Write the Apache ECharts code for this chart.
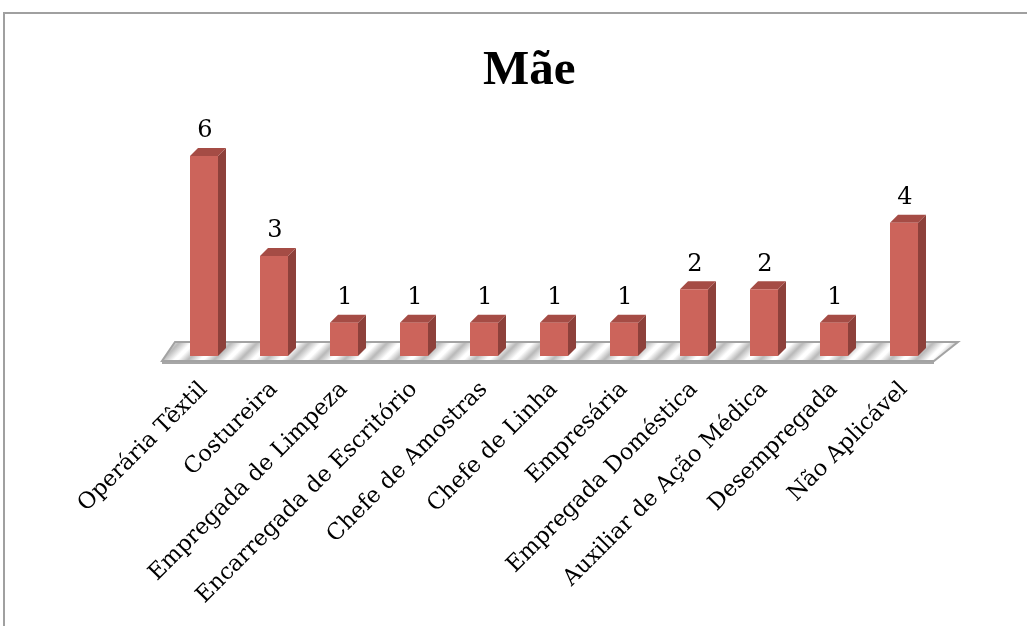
<!DOCTYPE html>
<html>
<head>
<meta charset="utf-8">
<script src="https://cdn.jsdelivr.net/npm/echarts@6/dist/echarts.min.js"></script>
<style>
  html, body { margin: 0; padding: 0; background: #fff; }
  #chart { width: 1027px; height: 626px; }
</style>
</head>
<body>
<div id="chart"></div>
<script>
var categories = ['Operária Têxtil', 'Costureira', 'Empregada de Limpeza', 'Encarregada de Escritório',
  'Chefe de Amostras', 'Chefe de Linha', 'Empresária', 'Empregada Doméstica',
  'Auxiliar de Ação Médica', 'Desempregada', 'Não Aplicável'];
var values = [6, 3, 1, 1, 1, 1, 1, 2, 2, 1, 4];

var barW = 28;     // front face width
var depthX = 8;    // 3d depth offset
var depthY = -8;

// striped floor pattern
function floorPattern() {
  var c = document.createElement('canvas');
  c.width = 26; c.height = 20;
  var ctx = c.getContext('2d');
  var g = ctx.createLinearGradient(0, 0, 26, 0);
  g.addColorStop(0, '#b8b8b8');
  g.addColorStop(0.45, '#ffffff');
  g.addColorStop(0.6, '#ffffff');
  g.addColorStop(1, '#b8b8b8');
  ctx.fillStyle = '#c8c8c8';
  ctx.fillRect(0, 0, 26, 20);
  ctx.save();
  ctx.transform(1, 0, -1, 1, 0, 0);
  ctx.fillStyle = g;
  ctx.fillRect(0, 0, 26, 20);
  ctx.translate(26, 0);
  ctx.fillRect(0, 0, 26, 20);
  ctx.restore();
  return c;
}

var chart = echarts.init(document.getElementById('chart'));
chart.setOption({
  animation: false,
  title: {
    text: 'Mãe',
    left: 478,
    top: 42,
    textStyle: { fontFamily: 'Liberation Serif', fontWeight: 'bold', fontSize: 49, color: '#000' }
  },
  graphic: [{
    type: 'rect',
    shape: { x: 4, y: 13, width: 1060, height: 660 },
    style: { fill: 'none', stroke: '#a0a0a0', lineWidth: 2 },
    z: 0
  }],
  grid: { left: 169, right: 88, top: 156, bottom: 270 },
  xAxis: {
    type: 'category',
    data: categories,
    axisLine: { show: false },
    axisTick: { show: false },
    axisLabel: {
      interval: 0,
      rotate: 45,
      margin: 30,
      fontFamily: 'DejaVu Serif',
      fontSize: 22.5,
      color: '#000'
    }
  },
  yAxis: { type: 'value', min: 0, max: 6, show: false },
  series: [{
    type: 'custom',
    data: [[0, 0]],
    z: 1,
    renderItem: function (params, api) {
      var bw = api.size([1, 0])[0];
      var p0 = api.coord([0, 0]);
      var p1 = api.coord([categories.length - 1, 0]);
      var left = p0[0] - bw / 2, right = p1[0] + bw / 2, y = p0[1];
      var pts = [[left + 6, y - 14], [right + 19, y - 14], [right - 5, y + 5], [left - 7, y + 5]];
      return {
        type: 'group',
        children: [{
          type: 'polygon',
          shape: { points: [[left - 7, y + 5], [right - 5, y + 5], [right - 5, y + 8], [left - 7, y + 8]] },
          style: { fill: '#a6a6a6' }
        }, {
          type: 'polygon',
          shape: { points: pts },
          style: { fill: { image: floorPattern(), repeat: 'repeat' }, stroke: '#a3a3a3', lineWidth: 2 }
        }]
      };
    }
  }, {
    type: 'custom',
    data: values.map(function (v, i) { return [i, v]; }),
    encode: { x: 0, y: 1 },
    z: 2,
    renderItem: function (params, api) {
      var top = api.coord([api.value(0), api.value(1)]);
      var base = api.coord([api.value(0), 0]);
      var x0 = top[0] - barW / 2, x1 = top[0] + barW / 2;
      var yt = top[1], yb = base[1];
      return {
        type: 'group',
        children: [{
          type: 'polygon',
          shape: { points: [[x1, yt], [x1 + depthX, yt + depthY], [x1 + depthX, yb + depthY], [x1, yb]] },
          style: { fill: '#8d413b' }
        }, {
          type: 'polygon',
          shape: { points: [[x0, yt], [x0 + depthX, yt + depthY], [x1 + depthX, yt + depthY], [x1, yt]] },
          style: { fill: '#a54c45' }
        }, {
          type: 'rect',
          shape: { x: x0, y: yt, width: barW, height: yb - yt },
          style: { fill: '#cc645b' }
        }, {
          type: 'text',
          x: top[0] + 1,
          y: yt - 25,
          style: {
            text: String(api.value(1)),
            align: 'center', verticalAlign: 'middle',
            fontFamily: 'DejaVu Serif', fontSize: 24, fill: '#000'
          }
        }]
      };
    }
  }]
});
</script>
</body>
</html>
